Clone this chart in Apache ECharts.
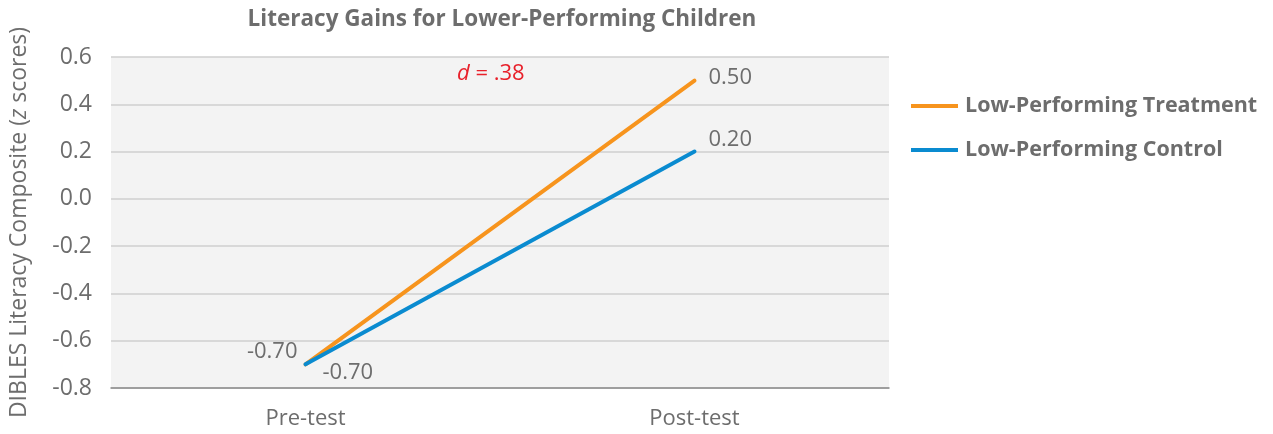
<!DOCTYPE html>
<html><head><meta charset="utf-8">
<script src="https://cdn.jsdelivr.net/npm/echarts@6/dist/echarts.min.js"></script>
<style>html,body{margin:0;padding:0;background:#fff}#c{width:1273px;height:434px}</style>
</head><body><div id="c"></div>
<script>
const categories = ['Pre-test', 'Post-test'];
const treatment = [-0.70, 0.50];
const control = [-0.70, 0.20];
const yTicks = [-0.8, -0.6, -0.4, -0.2, 0.0, 0.2, 0.4, 0.6];
const seriesNames = ['Low-Performing Treatment', 'Low-Performing Control'];
const effectLabel = '.38';

const FONT = 'Open Sans';
const GRAY = '#6d6d6d';
const FS = 22;
const chart = echarts.init(document.getElementById('c'));

const labelPos = {
  t: [{ position: 'left', offset: [-2, -13] }, { position: 'right', offset: [8, -3] }],
  c: [{ position: 'right', offset: [11, 8] }, { position: 'right', offset: [8, -12] }]
};
function mk(vals, pos) {
  return vals.map((v, i) => ({ value: v, label: pos[i] }));
}

chart.setOption({
  backgroundColor: '#fff',
  animation: false,
  textStyle: { fontFamily: FONT, color: GRAY },
  title: {
    text: 'Literacy Gains for Lower-Performing Children',
    left: 497, top: 3, textAlign: 'center',
    textStyle: { fontFamily: FONT, fontWeight: 'bold', fontSize: 22.5, color: GRAY }
  },
  legend: {
    orient: 'vertical', left: 906, top: 90, itemGap: 22,
    itemWidth: 47, itemHeight: 4, icon: 'rect',
    textStyle: { fontFamily: FONT, fontWeight: 'bold', fontSize: 21.5, color: GRAY, padding: [0, 0, 0, 2] },
    data: seriesNames
  },
  grid: { left: 106, right: 384, top: 57, bottom: 46, show: true, backgroundColor: '#f3f3f3', borderWidth: 0 },
  xAxis: {
    type: 'category', data: categories, boundaryGap: true,
    axisLine: { onZero: false, lineStyle: { color: '#8a8a8a', width: 1.5 } },
    axisTick: { show: false },
    axisLabel: { fontFamily: FONT, fontSize: FS, color: GRAY, margin: 20 }
  },
  yAxis: {
    type: 'value', min: yTicks[0], max: yTicks[yTicks.length - 1], interval: 0.2,
    name: '{n|DIBLES Literacy Composite (}{i|z}{n| scores)}',
    nameLocation: 'middle', nameGap: 80, nameRotate: 90,
    nameTextStyle: { rich: {
      n: { fontFamily: FONT, fontSize: 23, color: GRAY },
      i: { fontFamily: FONT, fontSize: 23, color: GRAY, fontStyle: 'italic' }
    } },
    axisLine: { show: false }, axisTick: { show: false },
    splitLine: { lineStyle: { color: '#cfcfcf', width: 1.5 } },
    axisLabel: { fontFamily: FONT, fontSize: 23, color: GRAY, margin: 19,
      formatter: v => v.toFixed(1) }
  },
  graphic: [{
    type: 'text', left: 457, top: 63, z: 10,
    style: {
      rich: {
        d: { fontFamily: FONT, fontSize: FS, fill: '#e8202a', fontStyle: 'italic' },
        t: { fontFamily: FONT, fontSize: FS, fill: '#e8202a' }
      },
      text: '{d|d}{t| = ' + effectLabel + '}'
    }
  }],
  series: [
    {
      name: seriesNames[0], type: 'line', data: mk(treatment, labelPos.t), color: '#f7941d',
      symbol: 'circle', symbolSize: 2, showSymbol: true,
      lineStyle: { width: 4, cap: 'round' }, z: 3,
      label: { show: true, fontFamily: FONT, fontSize: FS, color: GRAY,
        formatter: p => p.value.toFixed(2) }
    },
    {
      name: seriesNames[1], type: 'line', data: mk(control, labelPos.c), color: '#0a8bd0',
      symbol: 'circle', symbolSize: 2, showSymbol: true,
      lineStyle: { width: 4, cap: 'round' }, z: 4,
      label: { show: true, fontFamily: FONT, fontSize: FS, color: GRAY,
        formatter: p => p.value.toFixed(2) }
    }
  ]
});
</script></body></html>
